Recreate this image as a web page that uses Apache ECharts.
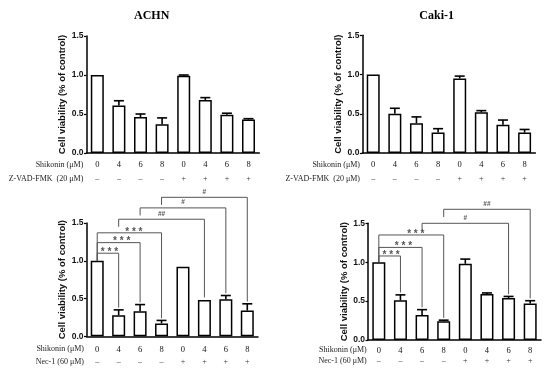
<!DOCTYPE html>
<html><head><meta charset="utf-8">
<script src="https://cdn.jsdelivr.net/npm/echarts@6/dist/echarts.min.js"></script>
<style>html,body{margin:0;padding:0;background:#fff}#c{width:550px;height:371px}</style>
</head><body><div id="c"></div>
<script>
// ---- data ----
const doses = ['0','4','6','8','0','4','6','8'];
const signs = ['\u2013','\u2013','\u2013','\u2013','+','+','+','+'];
const titles = ['ACHN','Caki-1'];
const rowLabelTop = ['Shikonin (\u03bcM)','Z-VAD-FMK  (20 \u03bcM)'];
const rowLabelBottom = ['Shikonin (\u03bcM)','Nec-1 (60 \u03bcM)'];
const yName = 'Cell viability (% of control)';

const achnZvad = [1.00, 0.61, 0.46, 0.37, 0.99, 0.68, 0.49, 0.43];
const achnZvadErr = [0, 0.06, 0.04, 0.08, 0.01, 0.03, 0.02, 0.01];
const cakiZvad = [1.00, 0.50, 0.38, 0.26, 0.95, 0.52, 0.36, 0.26];
const cakiZvadErr = [0, 0.07, 0.08, 0.05, 0.03, 0.02, 0.06, 0.04];
const achnNec = [1.00, 0.28, 0.33, 0.17, 0.92, 0.48, 0.49, 0.34];
const achnNecErr = [0, 0.07, 0.09, 0.04, 0.005, 0.005, 0.05, 0.09];
const cakiNec = [1.00, 0.51, 0.32, 0.24, 0.98, 0.59, 0.54, 0.47];
const cakiNecErr = [0, 0.07, 0.07, 0.015, 0.06, 0.015, 0.02, 0.035];

// significance brackets: [from, to, bracket level, left end level, label]
const achnNecSig = [
  [0,1,1.10,1.00,'* * *'],[0,2,1.24,1.00,'* * *'],[0,3,1.37,1.00,'* * *'],
  [1,5,1.55,1.45,'##'],[2,6,1.70,1.60,'#'],[3,7,1.84,1.74,'#']
];
const cakiNecSig = [
  [0,1,1.08,1.00,'* * *'],[0,2,1.19,1.00,'* * *'],[0,3,1.35,1.00,'* * *'],
  [2,6,1.50,1.40,'#'],[3,7,1.68,1.58,'##']
];
const yTicks = [0, 0.5, 1.0, 1.5];

// ---- layout ----
const grids = [
  {left:86.5, top:36, width:172.8, height:117},
  {left:362.4, top:35.3, width:173, height:117.7},
  {left:86.5, top:223, width:171.5, height:113.3},
  {left:368, top:223.3, width:173, height:116.7}
];
const nameGaps = [16, 17, 16, 18];
const labelMargins = [7.5, 7.3, 8.7, 6];
const rowOffsets = [14, 14.7, 12.7, 10.7];

const panels = [
  {v:achnZvad, e:achnZvadErr, sig:null},
  {v:cakiZvad, e:cakiZvadErr, sig:null},
  {v:achnNec, e:achnNecErr, sig:achnNecSig},
  {v:cakiNec, e:cakiNecErr, sig:cakiNecSig}
];

const sans = 'Liberation Sans, Arial, sans-serif';
const serif = 'Liberation Serif, Times New Roman, serif';

const xAxes = [], yAxes = [], series = [];
panels.forEach((p, i) => {
  xAxes.push({
    gridIndex:i, type:'category', data:doses, position:'bottom',
    axisLine:{lineStyle:{color:'#000', width:1.5}},
    axisTick:{alignWithLabel:true, length:3, lineStyle:{color:'#000', width:1.2}},
    axisLabel:{margin:labelMargins[i], fontFamily:serif, fontSize:8.5, color:'#111'}
  });
  xAxes.push({
    gridIndex:i, type:'category', data:signs, position:'bottom', offset:rowOffsets[i],
    axisLine:{show:false}, axisTick:{show:false},
    axisLabel:{margin:labelMargins[i], fontFamily:serif, fontSize:8, color:'#333'}
  });
  yAxes.push({
    gridIndex:i, type:'value', min:yTicks[0], max:yTicks[yTicks.length-1], interval:0.5,
    name:yName, nameLocation:'middle', nameRotate:90, nameGap:nameGaps[i],
    nameTextStyle:{fontFamily:sans, fontWeight:'bold', fontSize:9.5, color:'#111'},
    axisLine:{show:true, lineStyle:{color:'#000', width:1.5}},
    axisTick:{show:true, length:2.5, lineStyle:{color:'#000', width:1.2}},
    splitLine:{show:false},
    axisLabel:{margin:3, fontFamily:sans, fontWeight:'bold', fontSize:8.5, color:'#111',
      formatter:v => v.toFixed(1)}
  });
  series.push({
    type:'bar', xAxisIndex:2*i, yAxisIndex:i, data:p.v, barWidth:13,
    itemStyle:{color:'#fff', borderColor:'#000', borderWidth:1.5},
    silent:true, animation:false
  });
  series.push({
    type:'custom', xAxisIndex:2*i, yAxisIndex:i, clip:false, animation:false, silent:true,
    data:p.v.map((v, k) => [k, v, v + p.e[k]]),
    renderItem:(params, api) => {
      const lo = api.coord([api.value(0), api.value(1)]);
      const hi = api.coord([api.value(0), api.value(2)]);
      if (lo[1] - hi[1] < 0.6) return null;
      const st = {stroke:'#000', lineWidth:1.6};
      return {type:'group', children:[
        {type:'line', shape:{x1:lo[0], y1:lo[1], x2:hi[0], y2:hi[1]}, style:st},
        {type:'line', shape:{x1:hi[0]-5, y1:hi[1], x2:hi[0]+5, y2:hi[1]}, style:st}
      ]};
    }
  });
  if (p.sig) {
    series.push({
      type:'custom', xAxisIndex:2*i, yAxisIndex:i, clip:false, animation:false, silent:true,
      data:p.sig.map(s => [s[0], s[1], s[2], s[3], p.v[s[1]] + p.e[s[1]] + 0.03]),
      renderItem:(params, api) => {
        const f = api.value(0), t = api.value(1);
        const a = api.coord([f, api.value(2)]);
        const b = api.coord([t, api.value(2)]);
        const al = api.coord([f, api.value(3)]);
        const br = api.coord([t, api.value(4)]);
        const lab = p.sig[params.dataIndex][4];
        const star = lab.indexOf('*') >= 0;
        const st = {stroke:'#555', lineWidth:1};
        return {type:'group', children:[
          {type:'line', shape:{x1:al[0], y1:al[1], x2:a[0], y2:a[1]}, style:st},
          {type:'line', shape:{x1:a[0], y1:a[1], x2:b[0], y2:b[1]}, style:st},
          {type:'line', shape:{x1:b[0], y1:b[1], x2:br[0], y2:br[1]}, style:st},
          {type:'text', x:a[0] + (b[0]-a[0])*(star ? 0.57 : 0.5), y:a[1] - (star ? 1 : 2),
            style:{text:lab, textAlign:'center', textVerticalAlign:star ? 'middle' : 'bottom',
              fontFamily:sans, fontWeight:'bold', fontSize:star ? 10 : 6.5, fill:'#555'}}
        ]};
      }
    });
  }
});

const graphic = [
  {type:'text', x:151.7, y:16, style:{text:titles[0], textAlign:'center', textVerticalAlign:'middle', fontFamily:serif, fontWeight:'bold', fontSize:12, fill:'#000'}},
  {type:'text', x:436.7, y:15.5, style:{text:titles[1], textAlign:'center', textVerticalAlign:'middle', fontFamily:serif, fontWeight:'bold', fontSize:12, fill:'#000'}}
];
const rowPos = [
  {x:83.3, y:[164.8,178.5], labels:rowLabelTop},
  {x:360, y:[164.5,179], labels:rowLabelTop},
  {x:84, y:[349,361.7], labels:rowLabelBottom},
  {x:366.7, y:[350,360.7], labels:rowLabelBottom}
];
rowPos.forEach(r => r.labels.forEach((t, k) => graphic.push({
  type:'text', x:r.x, y:r.y[k],
  style:{text:t, textAlign:'right', textVerticalAlign:'middle', fontFamily:serif, fontSize:8, fill:'#222'}
})));

const chart = echarts.init(document.getElementById('c'), null, {renderer:'canvas'});
chart.setOption({
  animation:false, backgroundColor:'#fff',
  grid:grids, xAxis:xAxes, yAxis:yAxes, series:series, graphic:graphic
});
</script></body></html>
